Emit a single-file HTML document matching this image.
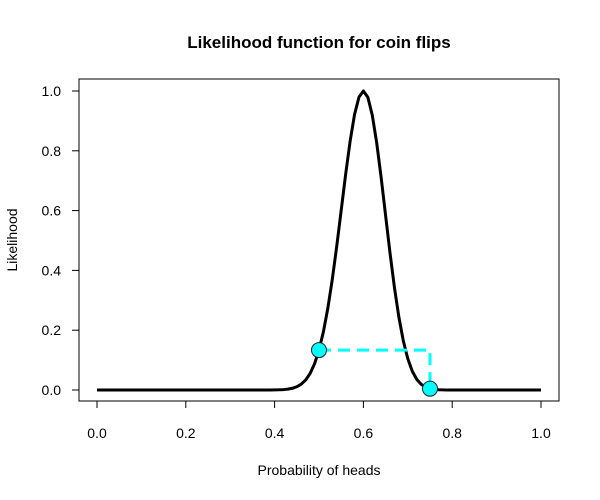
<!DOCTYPE html>
<html><head><style>body{margin:0;background:#fff}svg{display:block;font-family:"Liberation Sans",Arial,sans-serif}</style></head>
<body>
<svg id="s" width="600" height="500" viewBox="0 0 600 500">
<rect x="79" y="79" width="480" height="322" fill="none" stroke="#000" stroke-width="1"/>
<text x="319" y="48" font-size="17" font-weight="bold" text-anchor="middle">Likelihood function for coin flips</text>
<text x="319" y="475" font-size="14" text-anchor="middle">Probability of heads</text>
<text transform="translate(17,240) rotate(-90)" font-size="14" text-anchor="middle">Likelihood</text>
<g id="ax" stroke="#000" font-size="14"></g>
<path id="c" fill="none" stroke="#000" stroke-width="3" stroke-linejoin="round"/>
<path id="d" fill="none" stroke="#00ffff" stroke-width="3" stroke-dasharray="12,7"/>
<circle id="p1" r="7.5" fill="#00ffff" stroke="#222" stroke-width="1"/>
<circle id="p2" r="7.5" fill="#00ffff" stroke="#222" stroke-width="1"/>
</svg>
<script>
const X=p=>97+444*p, Y=v=>390-299*v;
const ns="http://www.w3.org/2000/svg";
const ax=document.getElementById('ax');
function el(t,a,txt){const e=document.createElementNS(ns,t);for(const k in a)e.setAttribute(k,a[k]);if(txt!==undefined)e.textContent=txt;ax.appendChild(e);}
el('line',{x1:X(0),x2:X(1),y1:401,y2:401});
el('line',{x1:79,x2:79,y1:Y(0),y2:Y(1)});
for(let i=0;i<=5;i++){const v=i/5;
 el('line',{x1:X(v),x2:X(v),y1:401,y2:408});
 el('text',{x:X(v),y:438,'text-anchor':'middle',stroke:'none'},v.toFixed(1));
 el('line',{x1:72,x2:79,y1:Y(v),y2:Y(v)});
 el('text',{x:61,y:Y(v)+5,'text-anchor':'end',stroke:'none'},v.toFixed(1));
}
const L=p=>Math.exp(60*Math.log(p/0.6)+40*Math.log((1-p)/0.4));
let d='';
for(let i=0;i<=100;i++){const p=i/100;const v=(p==0||p==1)?0:L(p);d+=(i?'L':'M')+X(p).toFixed(2)+','+Y(v).toFixed(2);}
document.getElementById('c').setAttribute('d',d);
const a=L(0.5),b=L(0.75);
document.getElementById('d').setAttribute('d',`M${X(0.5)},${Y(a)}L${X(0.75)},${Y(a)}L${X(0.75)},${Y(b)}`);
const p1=document.getElementById('p1');p1.setAttribute('cx',X(0.5));p1.setAttribute('cy',Y(a));
const p2=document.getElementById('p2');p2.setAttribute('cx',X(0.75));p2.setAttribute('cy',Y(b));
</script>
</body></html>
